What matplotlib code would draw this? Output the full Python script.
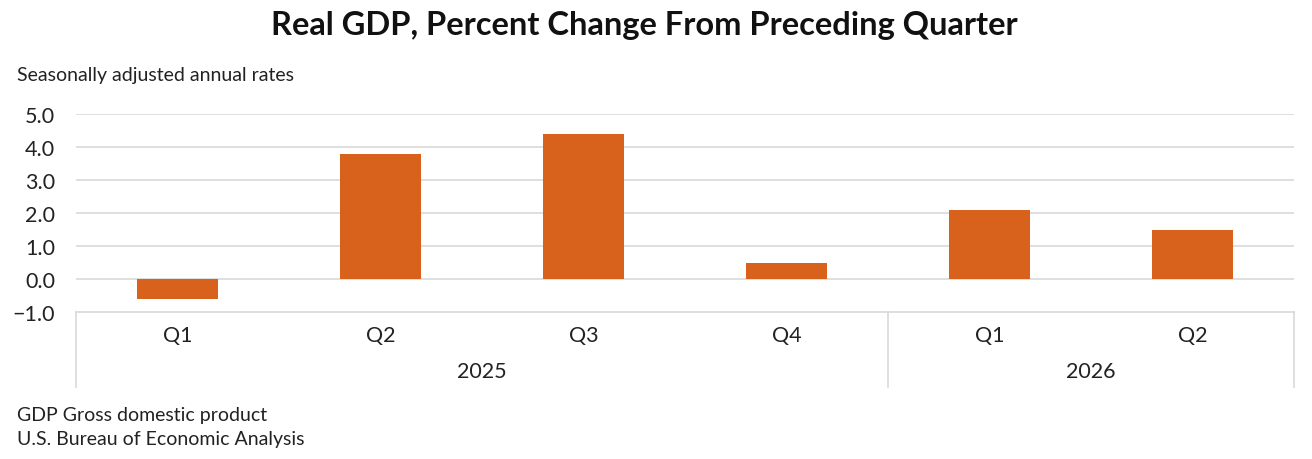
import matplotlib
matplotlib.use("Agg")
import matplotlib.pyplot as plt
import numpy as np

quarters = ["Q1", "Q2", "Q3", "Q4", "Q1", "Q2"]
years = ["2025", "2026"]
quarters_per_year = [4, 2]
gdp_change = [-0.6, 3.8, 4.4, 0.5, 2.1, 1.5]
y_ticks = [-1.0, 0.0, 1.0, 2.0, 3.0, 4.0, 5.0]

plt.rcParams["font.family"] = ["Lato", "DejaVu Sans"]
plt.rcParams["axes.unicode_minus"] = True
bar_color = "#d8611b"
grid_color = "#d9d9d9"
text_color = "#222222"

fig = plt.figure(figsize=(13.12, 4.6), dpi=100)
ax = fig.add_axes([76 / 1312, 1 - 313 / 460, (1294 - 76) / 1312, (313 - 115) / 460])

x = np.arange(len(gdp_change))
ax.bar(x, gdp_change, width=0.4, color=bar_color, zorder=3)
ax.set_xlim(-0.5, len(gdp_change) - 0.5)
ax.set_ylim(y_ticks[0], y_ticks[-1])
ax.set_yticks(y_ticks)
ax.set_yticklabels([f"{v:.1f}".replace("-", "\u2212") for v in y_ticks], fontsize=15.5, color=text_color)
ax.tick_params(axis="y", length=0, pad=15)
ax.set_xticks([])
for v in y_ticks[1:]:
    ax.axhline(v, color=grid_color, linewidth=1.2, zorder=1)
for side in ["top", "right", "left"]:
    ax.spines[side].set_visible(False)
ax.spines["bottom"].set_color(grid_color)
ax.spines["bottom"].set_linewidth(1.2)

# category labels below the axis
trans = ax.get_xaxis_transform()
for i, q in enumerate(quarters):
    ax.text(i, -0.115, q, transform=trans, ha="center", va="center", fontsize=15.5, color=text_color)

# year groups with separator lines
start = 0
line_bottom = -(388 - 313) / (313 - 115)
for year, n in zip(years, quarters_per_year):
    ax.plot([start - 0.5, start - 0.5], [0, line_bottom], transform=trans, color=grid_color,
            linewidth=1.2, clip_on=False)
    center = start + (n - 1) / 2
    ax.text(center, -0.30, year, transform=trans, ha="center", va="center", fontsize=15.5, color=text_color)
    start += n
ax.plot([start - 0.5, start - 0.5], [0, line_bottom], transform=trans, color=grid_color,
        linewidth=1.2, clip_on=False)

fig.text(644 / 1312, 1 - 25 / 460, "Real GDP, Percent Change From Preceding Quarter", ha="center", va="center",
         fontsize=23.5, fontweight="bold", color="#111111")
fig.text(17 / 1312, 1 - 75 / 460, "Seasonally adjusted annual rates", ha="left", va="center",
         fontsize=14, color=text_color)
fig.text(17 / 1312, 1 - 416 / 460, "GDP Gross domestic product", ha="left", va="center",
         fontsize=14, color=text_color)
fig.text(17 / 1312, 1 - 440 / 460, "U.S. Bureau of Economic Analysis", ha="left", va="center",
         fontsize=14, color=text_color)

fig.savefig("out.png", dpi=100, facecolor="white")
